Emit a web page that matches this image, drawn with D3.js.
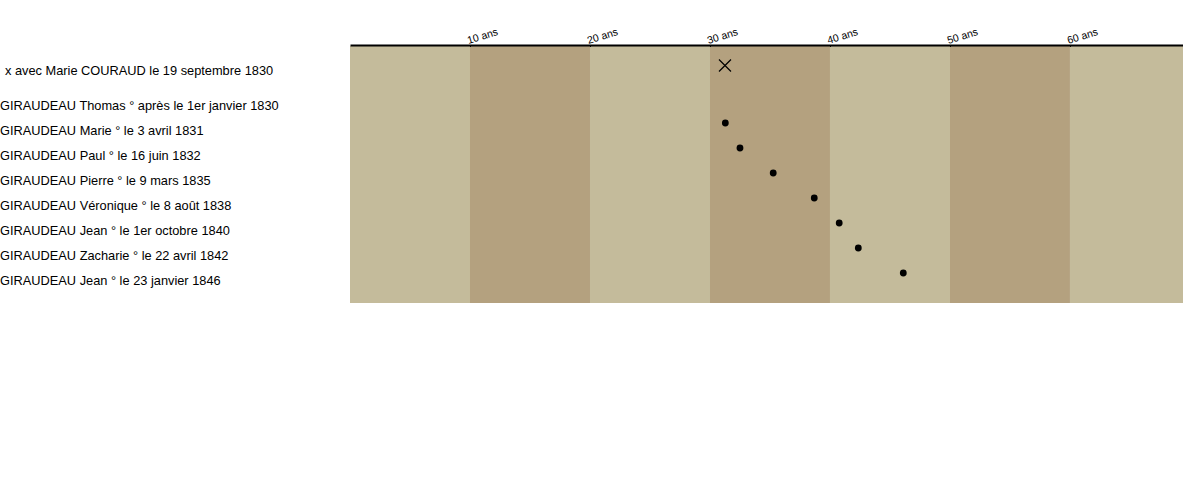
<!DOCTYPE html>
<html>
<head>
<meta charset="utf-8">
<title>Chronologie GIRAUDEAU</title>
<style>
  body { margin: 0; background: #fff; font-family: 'Liberation Sans', Arial, sans-serif; }
  .label { font-size: 12.8px; fill: #000; }
  .axe text { font-size: 10.5px; fill: #000; }
  .axe path { stroke: #000; stroke-width: 2px; }
  .axe line { stroke: #000; }
</style>
</head>
<body>
<div id="viz"></div>
<script src="https://d3js.org/d3.v7.min.js"></script>
<script>
// evenement : mariage
var mariageLabel = 'x avec Marie COURAUD le 19 septembre 1830';
var mariageAge = 31.25;

// enfants et age du pere a la naissance (null = date inconnue)
var enfants = [
  'GIRAUDEAU Thomas ° après le 1er janvier 1830',
  'GIRAUDEAU Marie ° le 3 avril 1831',
  'GIRAUDEAU Paul ° le 16 juin 1832',
  'GIRAUDEAU Pierre ° le 9 mars 1835',
  'GIRAUDEAU Véronique ° le 8 août 1838',
  'GIRAUDEAU Jean ° le 1er octobre 1840',
  'GIRAUDEAU Zacharie ° le 22 avril 1842',
  'GIRAUDEAU Jean ° le 23 janvier 1846'
];
var ages = [null, 31.28, 32.5, 35.27, 38.69, 40.77, 42.36, 46.11];

// graduations (annees)
var decennies = [0, 10, 20, 30, 40, 50, 60];
var ticks = [10, 20, 30, 40, 50, 60];
var ageMax = 69.42;

var width = 1183, height = 480;

var svg = d3.select('#viz').append('svg')
    .attr('width', width)
    .attr('height', height);

var x = d3.scaleLinear().domain([0, ageMax]).range([350, width]);
// lignes : -1.4 = mariage, 0..7 = enfants
var y = d3.scaleLinear().domain([0, 1]).range([109.5, 134.5]);

// bandes par decennie
svg.append('g').selectAll('rect')
    .data(decennies)
  .enter().append('rect')
    .attr('x', function(d) { return x(d); })
    .attr('y', 46)
    .attr('width', function(d) { return x(Math.min(d + 10, ageMax)) - x(d); })
    .attr('height', 257)
    .attr('fill', function(d, i) { return i % 2 ? '#b4a17f' : '#c4bb9b'; });

// axe du haut
var axe = svg.append('g')
    .attr('class', 'axe')
    .attr('transform', 'translate(0,45)')
    .call(d3.axisTop(x).tickValues(ticks).tickSizeInner(-2).tickSizeOuter(0)
      .tickFormat(function(d) { return d + ' ans'; }));

axe.selectAll('text')
    .attr('text-anchor', 'start')
    .attr('y', 0)
    .attr('dy', 0)
    .attr('transform', 'translate(-2,-1) rotate(-17)');

// mariage
svg.append('text')
    .attr('class', 'label')
    .attr('x', 5)
    .attr('y', y(-1.4))
    .text(mariageLabel);

var cx = x(mariageAge), cy = y(-1.4) - 9;
svg.append('path')
    .attr('d', 'M' + (cx - 6) + ',' + (cy - 6) + 'L' + (cx + 6) + ',' + (cy + 6) +
               'M' + (cx + 6) + ',' + (cy - 6) + 'L' + (cx - 6) + ',' + (cy + 6))
    .attr('stroke', '#000')
    .attr('stroke-width', 1.2)
    .attr('fill', 'none');

// enfants
svg.append('g').selectAll('text')
    .data(enfants)
  .enter().append('text')
    .attr('class', 'label')
    .attr('x', 0)
    .attr('y', function(d, i) { return y(i); })
    .text(function(d) { return d; });

svg.append('g').selectAll('circle')
    .data(ages.map(function(a, i) { return {age: a, i: i}; })
      .filter(function(d) { return d.age !== null; }))
  .enter().append('circle')
    .attr('cx', function(d) { return x(d.age); })
    .attr('cy', function(d) { return y(d.i) - 11.5; })
    .attr('r', 3.4)
    .attr('fill', '#000');
</script>
</body>
</html>
